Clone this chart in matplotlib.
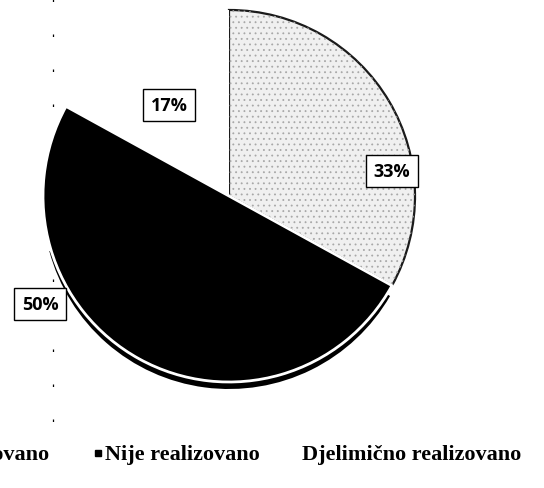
import matplotlib
matplotlib.use("Agg")
import matplotlib.pyplot as plt
from matplotlib.patches import Wedge

labels = ["Realizovano", "Nije realizovano", "Djelimično realizovano"]
values = [33, 50, 17]
pct_labels = ["33%", "50%", "17%"]
colors = ["#f0f0f0", "#000000", "#ffffff"]

W, H = 544, 489
plt.rcParams["hatch.linewidth"] = 0.6
fig = plt.figure(figsize=(W / 100, H / 100), dpi=100)
ax = fig.add_axes([0, 0, 1, 1])

cx, cy, r = 229, H - 197, 186

# shadow under the lower arc
shadow = Wedge((cx, cy - 7), r, 195, 330, facecolor="black", edgecolor="none", zorder=0)
ax.add_patch(shadow)

wedges, _ = ax.pie(values, colors=colors, startangle=90, counterclock=False,
                   center=(cx, cy), radius=r, frame=True)
wedges[0].set_edgecolor("#1a1a1a")
wedges[0].set_linewidth(1.6)
wedges[1].set_edgecolor("white")
wedges[1].set_linewidth(2.0)
wedges[2].set_edgecolor("none")
for w in wedges:
    w.set_zorder(1)
wedges[1].set_zorder(2)

# speckled texture on the light slice
tex = Wedge((cx, cy), r, wedges[0].theta1, wedges[0].theta2, facecolor="none",
            edgecolor="#a8a8a8", linewidth=0, hatch="...", zorder=1.5)
ax.add_patch(tex)

# percentage labels in boxes
label_pos = [(392, 172), (40, 305), (169, 106)]
for txt, (x, y) in zip(pct_labels, label_pos):
    ax.text(x, H - y, txt, ha="center", va="center", fontsize=13,
            fontfamily="Open Sans", fontweight="bold", zorder=5,
            bbox=dict(boxstyle="square,pad=0.4", facecolor="white",
                      edgecolor="black", linewidth=1.0))

# scan artifact dotted line
ax.plot([53, 53], [H - 0, H - 445], color="black", linewidth=0.9,
        dashes=(2, 26), zorder=0)

# legend
base = H - 460
fs = 16
ax.text(50, base, labels[0], ha="right", va="baseline", fontsize=fs,
        fontfamily="Liberation Serif", fontweight="bold")
ax.plot([98], [base + 6], marker="s", markersize=4, color="black", linestyle="none")
ax.text(105, base, labels[1], ha="left", va="baseline", fontsize=fs,
        fontfamily="Liberation Serif", fontweight="bold")
ax.plot([294], [base + 6], marker="s", markersize=4, color=colors[2], linestyle="none")
ax.text(302, base, labels[2], ha="left", va="baseline", fontsize=fs,
        fontfamily="Liberation Serif", fontweight="bold")

ax.set_xlim(0, W)
ax.set_ylim(0, H)
ax.set_aspect("auto")
ax.axis("off")

fig.savefig("out.png", dpi=100)
